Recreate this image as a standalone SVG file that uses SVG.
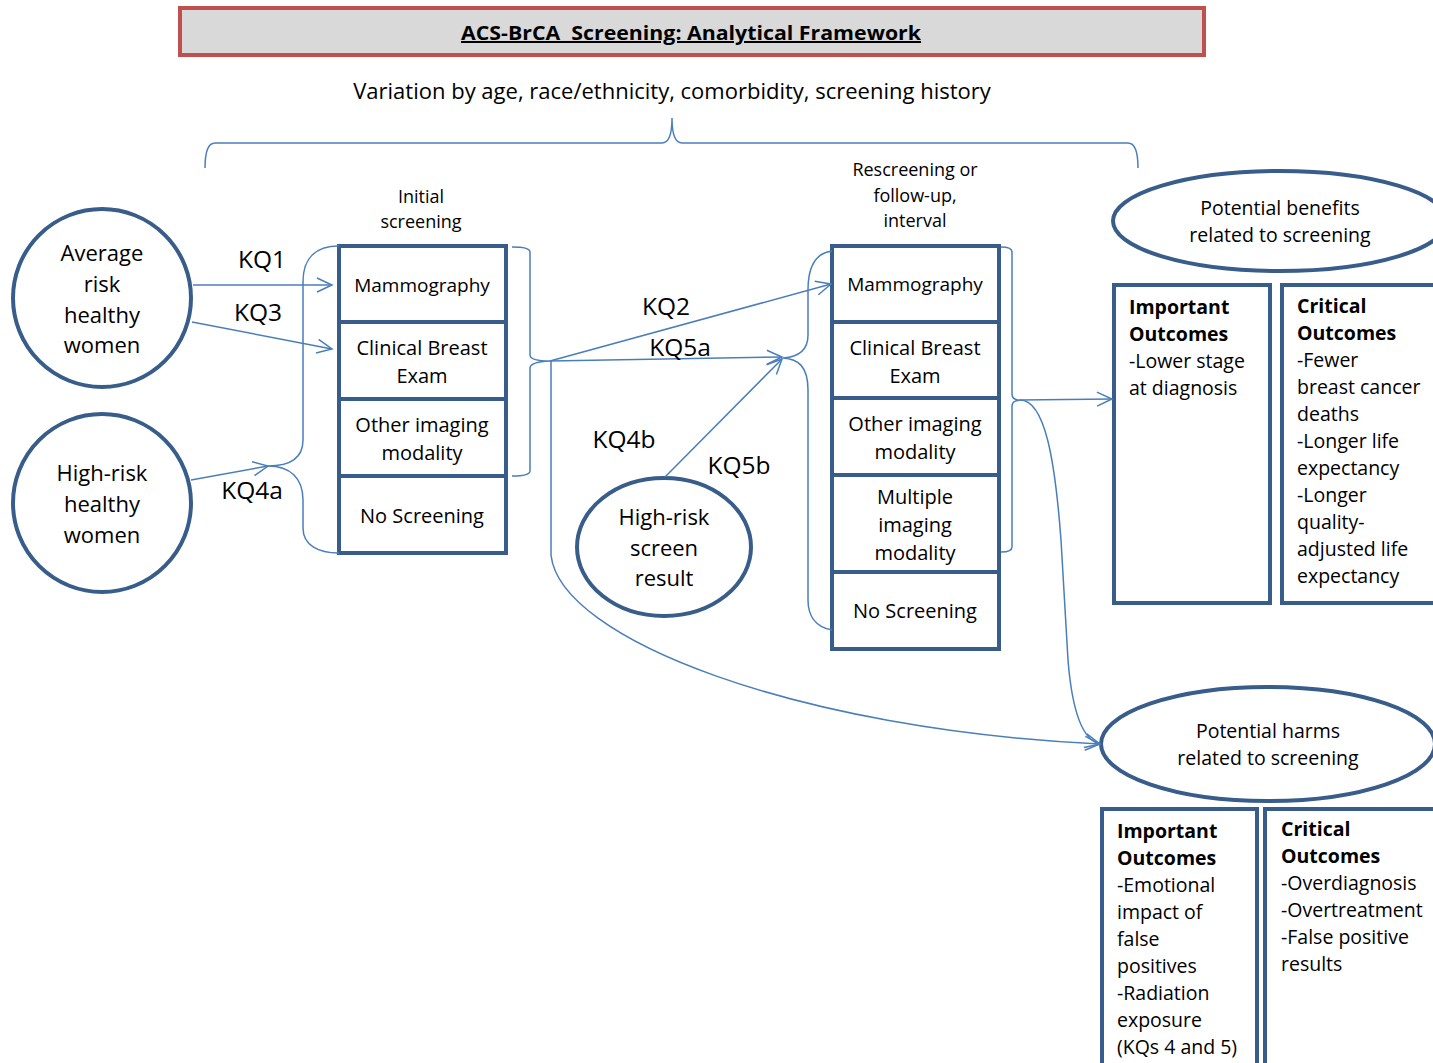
<svg xmlns="http://www.w3.org/2000/svg" width="1433" height="1063" viewBox="0 0 1433 1063">
<style>
text{font-family:"Open Sans","Liberation Sans",sans-serif;fill:#000;}
.t{font-size:20px;text-anchor:middle;}
.m{font-size:19px;}
.c{font-size:22px;text-anchor:middle;}
.kq{font-size:24.5px;text-anchor:middle;}
.lb{font-size:18px;text-anchor:middle;}
.o{font-size:19.5px;}
.b{font-weight:bold;}
.node{fill:#fff;stroke:#385d8a;stroke-width:4;}
.conn path,.conn line{fill:none;stroke:#4a7ebb;stroke-width:1.5;}
</style>
<defs>
<marker id="arr" markerUnits="userSpaceOnUse" markerWidth="18" markerHeight="18" viewBox="0 0 18 18" refX="16" refY="8" orient="auto">
<path d="M1,1 L16,8 L1,15" fill="none" stroke="#4a7ebb" stroke-width="1.5"/>
</marker>
</defs>
<rect width="1433" height="1063" fill="#fff"/>

<g id="title">
<rect x="180" y="8" width="1024" height="47" fill="#d9d9d9" stroke="#c0504d" stroke-width="4"/>
<text x="691" y="40" font-size="20" font-weight="bold" text-anchor="middle" text-decoration="underline" textLength="460" lengthAdjust="spacingAndGlyphs" xml:space="preserve">ACS-BrCA  Screening: Analytical Framework</text>
</g>
<g id="subtitle">
<text x="672" y="99" font-size="22" text-anchor="middle">Variation by age, race/ethnicity, comorbidity, screening history</text>
</g>

<g id="avg-risk">
<circle class="node" cx="102" cy="298" r="89"/>
<text class="c" x="102" y="261">Average</text>
<text class="c" x="102" y="292">risk</text>
<text class="c" x="102" y="323">healthy</text>
<text class="c" x="102" y="353">women</text>
</g>
<g id="high-risk">
<circle class="node" cx="102" cy="503" r="89"/>
<text class="c" x="102" y="481">High-risk</text>
<text class="c" x="102" y="512">healthy</text>
<text class="c" x="102" y="543">women</text>
</g>

<g id="initial-label">
<text class="lb" x="421" y="203">Initial</text>
<text class="lb" x="421" y="228">screening</text>
</g>
<g id="initial-screening">
<rect class="node" x="339" y="246" width="167" height="307"/>
<line x1="339" y1="322" x2="506" y2="322" stroke="#385d8a" stroke-width="4"/>
<line x1="339" y1="399" x2="506" y2="399" stroke="#385d8a" stroke-width="4"/>
<line x1="339" y1="476" x2="506" y2="476" stroke="#385d8a" stroke-width="4"/>
<text class="t m" x="422" y="292">Mammography</text>
<text class="t" x="422" y="355">Clinical Breast</text>
<text class="t" x="422" y="383">Exam</text>
<text class="t" x="422" y="432">Other imaging</text>
<text class="t" x="422" y="460">modality</text>
<text class="t" x="422" y="523">No Screening</text>
</g>

<g id="hr-result">
<ellipse class="node" cx="664" cy="547" rx="87" ry="69"/>
<text class="c" x="664" y="525">High-risk</text>
<text class="c" x="664" y="556">screen</text>
<text class="c" x="664" y="586">result</text>
</g>

<g id="rescreen-label">
<text class="lb" x="915" y="176">Rescreening or</text>
<text class="lb" x="915" y="202">follow-up,</text>
<text class="lb" x="915" y="227">interval</text>
</g>
<g id="rescreening">
<rect class="node" x="832" y="246" width="167" height="403"/>
<line x1="832" y1="322" x2="999" y2="322" stroke="#385d8a" stroke-width="4"/>
<line x1="832" y1="398" x2="999" y2="398" stroke="#385d8a" stroke-width="4"/>
<line x1="832" y1="475" x2="999" y2="475" stroke="#385d8a" stroke-width="4"/>
<line x1="832" y1="572" x2="999" y2="572" stroke="#385d8a" stroke-width="4"/>
<text class="t m" x="915" y="291">Mammography</text>
<text class="t" x="915" y="355">Clinical Breast</text>
<text class="t" x="915" y="383">Exam</text>
<text class="t" x="915" y="431">Other imaging</text>
<text class="t" x="915" y="459">modality</text>
<text class="t" x="915" y="504">Multiple</text>
<text class="t" x="915" y="532">imaging</text>
<text class="t" x="915" y="560">modality</text>
<text class="t" x="915" y="618">No Screening</text>
</g>

<g id="benefits">
<ellipse class="node" cx="1280" cy="221" rx="167" ry="50"/>
<text class="o" x="1280" y="215" text-anchor="middle">Potential benefits</text>
<text class="o" x="1280" y="242" text-anchor="middle">related to screening</text>
</g>
<g id="benefits-important">
<rect class="node" x="1114" y="285" width="156" height="318"/>
<text class="o b" x="1129" y="314">Important</text>
<text class="o b" x="1129" y="341">Outcomes</text>
<text class="o" x="1129" y="368">-Lower stage</text>
<text class="o" x="1129" y="395">at diagnosis</text>
</g>
<g id="benefits-critical">
<rect class="node" x="1282" y="285" width="170" height="318"/>
<text class="o b" x="1297" y="313">Critical</text>
<text class="o b" x="1297" y="340">Outcomes</text>
<text class="o" x="1297" y="367">-Fewer</text>
<text class="o" x="1297" y="394">breast cancer</text>
<text class="o" x="1297" y="421">deaths</text>
<text class="o" x="1297" y="448">-Longer life</text>
<text class="o" x="1297" y="475">expectancy</text>
<text class="o" x="1297" y="502">-Longer</text>
<text class="o" x="1297" y="529">quality-</text>
<text class="o" x="1297" y="556">adjusted life</text>
<text class="o" x="1297" y="583">expectancy</text>
</g>

<g id="harms">
<ellipse class="node" cx="1268" cy="744" rx="167" ry="57"/>
<text class="o" x="1268" y="738" text-anchor="middle">Potential harms</text>
<text class="o" x="1268" y="765" text-anchor="middle">related to screening</text>
</g>
<g id="harms-important">
<rect class="node" x="1102" y="809" width="155" height="280"/>
<text class="o b" x="1117" y="838">Important</text>
<text class="o b" x="1117" y="865">Outcomes</text>
<text class="o" x="1117" y="892">-Emotional</text>
<text class="o" x="1117" y="919">impact of</text>
<text class="o" x="1117" y="946">false</text>
<text class="o" x="1117" y="973">positives</text>
<text class="o" x="1117" y="1000">-Radiation</text>
<text class="o" x="1117" y="1027">exposure</text>
<text class="o" x="1117" y="1054">(KQs 4 and 5)</text>
</g>
<g id="harms-critical">
<rect class="node" x="1265" y="809" width="190" height="280"/>
<text class="o b" x="1281" y="836">Critical</text>
<text class="o b" x="1281" y="863">Outcomes</text>
<text class="o" x="1281" y="890">-Overdiagnosis</text>
<text class="o" x="1281" y="917">-Overtreatment</text>
<text class="o" x="1281" y="944">-False positive</text>
<text class="o" x="1281" y="971">results</text>
</g>

<g id="connectors" class="conn">
<path d="M205,168 Q205,143 215,143 L662,143 Q672,143 672,118 Q672,143 682,143 L1128,143 Q1138,143 1138,168"/>
<line x1="193" y1="285" x2="332" y2="285" marker-end="url(#arr)"/>
<line x1="192" y1="322" x2="332" y2="349" marker-end="url(#arr)"/>
<line x1="191" y1="480" x2="268" y2="466" marker-end="url(#arr)"/>
<path d="M339,246 C318,246 303,256 303,282 L303,440 C303,458 290,466 268,466 C290,466 303,478 303,500 L303,528 C303,545 318,553 339,553"/>
<path d="M512,247 Q530,247 530,252 L530,355 Q530,361 550,361 Q530,362 530,368 L530,471 Q530,476 512,476"/>
<line x1="550" y1="361" x2="831" y2="284" marker-end="url(#arr)"/>
<line x1="550" y1="361" x2="782" y2="357" marker-end="url(#arr)"/>
<path d="M551,361 L551,555 C560,640 800,730 1100,744" marker-end="url(#arr)"/>
<line x1="665" y1="477" x2="782" y2="359" marker-end="url(#arr)"/>
<path d="M832,251 C815,253 808,268 808,290 L808,335 C808,350 798,357 783,358 C798,359 808,366 808,390 L808,600 C808,615 815,627 832,630"/>
<path d="M1001,247 Q1012,247 1012,252 L1012,394 Q1012,400 1020,400 Q1012,401 1012,406 L1012,547 Q1012,552 1001,552"/>
<line x1="1020" y1="400" x2="1112" y2="399" marker-end="url(#arr)"/>
<path d="M1020,400 C1045,400 1055,460 1061,540 L1068,660 C1072,710 1082,740 1100,744" marker-end="url(#arr)"/>
</g>

<g id="kq-labels">
<text class="kq" x="262" y="268">KQ1</text>
<text class="kq" x="258" y="321">KQ3</text>
<text class="kq" x="252" y="499">KQ4a</text>
<text class="kq" x="666" y="315">KQ2</text>
<text class="kq" x="680" y="356">KQ5a</text>
<text class="kq" x="624" y="448">KQ4b</text>
<text class="kq" x="739" y="474">KQ5b</text>
</g>
</svg>
